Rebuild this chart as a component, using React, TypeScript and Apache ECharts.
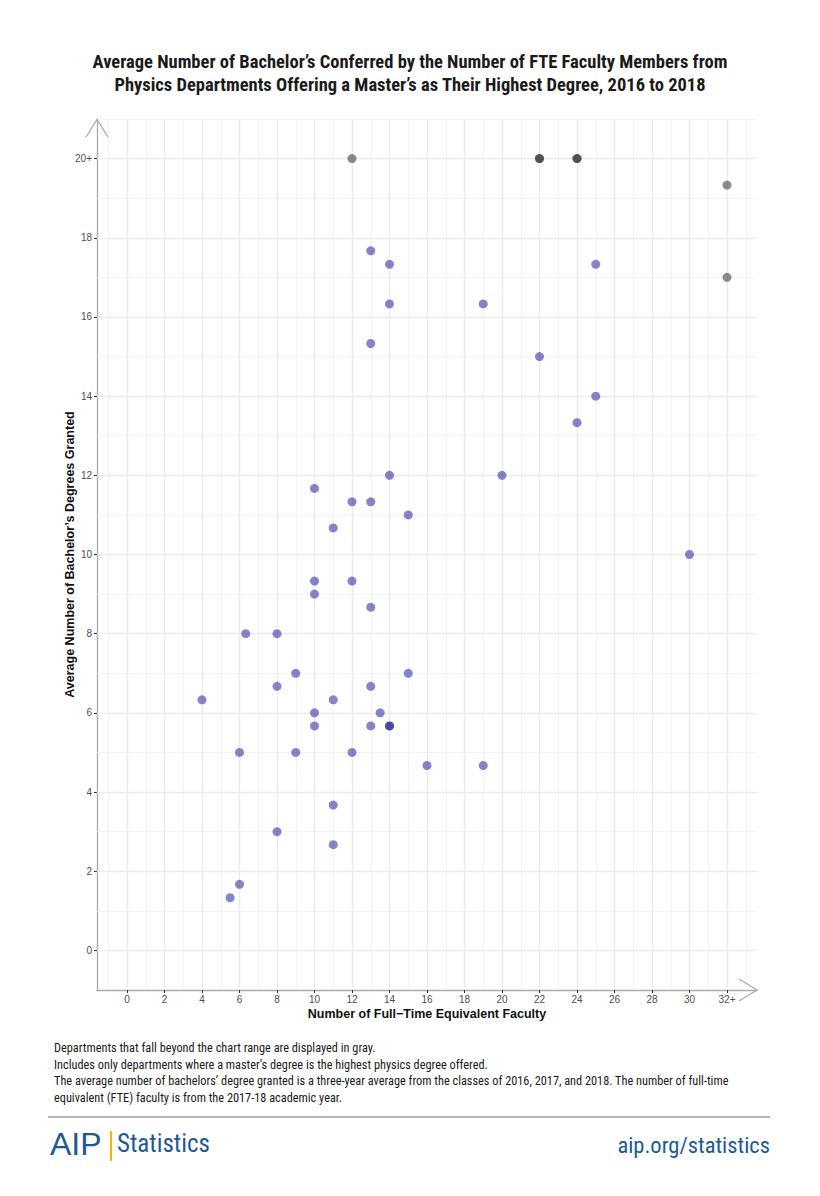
import React, { useEffect, useRef } from "react";
import * as echarts from "echarts";

const titleLines = [
  "Average Number of Bachelor’s Conferred by the Number of FTE Faculty Members from",
  "Physics Departments Offering a Master’s as Their Highest Degree, 2016 to 2018",
];
const xAxisTitle = "Number of Full−Time Equivalent Faculty";
const yAxisTitle = "Average Number of Bachelor’s Degrees Granted";

const xTickValues = [0, 2, 4, 6, 8, 10, 12, 14, 16, 18, 20, 22, 24, 26, 28, 30, 32];
const xTickLabels = ["0", "2", "4", "6", "8", "10", "12", "14", "16", "18", "20", "22", "24", "26", "28", "30", "32+"];
const yTickValues = [0, 2, 4, 6, 8, 10, 12, 14, 16, 18, 20];
const yTickLabels = ["0", "2", "4", "6", "8", "10", "12", "14", "16", "18", "20+"];
const xGridMinor = [-1, 1, 3, 5, 7, 9, 11, 13, 15, 17, 19, 21, 23, 25, 27, 29, 31, 33];
const yGridMinor = [1, 3, 5, 7, 9, 11, 13, 15, 17, 19, 21];

// departments within range (blue)
const blueFaculty = [13, 14, 14, 13, 25, 19, 22, 25, 24, 14, 10, 12, 13, 15, 11, 20, 30, 10, 12, 10, 13, 6.33, 8, 9, 15, 8, 13, 4, 11, 10, 13.5, 10, 13, 14, 14, 6, 9, 12, 16, 19, 11, 8, 11, 6, 5.5];
const blueBachelors = [17.67, 17.33, 16.33, 15.33, 17.33, 16.33, 15, 14, 13.33, 12, 11.67, 11.33, 11.33, 11, 10.67, 12, 10, 9.33, 9.33, 9, 8.67, 8, 8, 7, 7, 6.67, 6.67, 6.33, 6.33, 6, 6, 5.67, 5.67, 5.67, 5.67, 5, 5, 5, 4.67, 4.67, 3.67, 3, 2.67, 1.67, 1.33];

// departments beyond chart range (gray)
const grayFaculty = [12, 22, 22, 24, 24, 32, 32];
const grayBachelors = [20, 20, 20, 20, 20, 19.33, 17];

const footnotes = [
  "Departments that fall beyond the chart range are displayed in gray.",
  "Includes only departments where a master’s degree is the highest physics degree offered.",
  "The average number of bachelors’ degree granted is a three-year average from the classes of 2016, 2017, and 2018. The number of full-time",
  "equivalent (FTE) faculty is from the 2017-18 academic year.",
];

const COND = "'Liberation Sans Narrow', 'Roboto Condensed', 'DejaVu Sans Condensed', Roboto, sans-serif";
const ARIAL = "'Liberation Sans', Arial, sans-serif";
const AIP_BLUE = "#1b5a94";

export default function App() {
  const ref = useRef<HTMLDivElement>(null);
  useEffect(() => {
    document.body.style.margin = "0";
    const chart = echarts.init(ref.current!, null, { renderer: "svg" });
    const gridLines: any[] = [];
    const major = { width: 1.4, color: "#ebebeb", type: "solid" };
    const minor = { width: 0.8, color: "#f0f0f0", type: "solid" };
    xTickValues.forEach((v) => gridLines.push({ xAxis: v, lineStyle: major }));
    xGridMinor.forEach((v) => gridLines.push({ xAxis: v, lineStyle: minor }));
    yTickValues.forEach((v) => gridLines.push({ yAxis: v, lineStyle: major }));
    yGridMinor.forEach((v) => gridLines.push({ yAxis: v, lineStyle: minor }));

    const axisColor = "#ababab";
    chart.setOption({
      animation: false,
      title: {
        text: titleLines.join("\n"),
        left: "center",
        top: 45,
        textStyle: {
          fontFamily: COND,
          fontSize: 18.5,
          fontWeight: "bold",
          color: "#1a1a1a",
          lineHeight: 23,
          align: "center",
        },
      },
      grid: { left: 97, right: 63, top: 119, bottom: 206, containLabel: false },
      xAxis: {
        type: "value",
        min: -1.6,
        max: 33.6,
        splitLine: { show: false },
        axisLine: { show: true, onZero: false, lineStyle: { color: axisColor, width: 1.3 } },
        axisTick: { show: true, length: 3, customValues: xTickValues, lineStyle: { color: "#333" } },
        axisLabel: {
          customValues: xTickValues,
          formatter: (v: number) => xTickLabels[xTickValues.indexOf(v)] ?? "",
          color: "#4d4d4d",
          fontFamily: ARIAL,
          fontSize: 10,
          margin: 4,
        },
        name: xAxisTitle,
        nameLocation: "middle",
        nameGap: 17,
        nameMoveOverlap: false,
        nameTextStyle: { fontFamily: ARIAL, fontWeight: "bold", fontSize: 12.5, color: "#111" },
      },
      yAxis: {
        type: "value",
        min: -1,
        max: 21,
        splitLine: { show: false },
        axisLine: { show: true, onZero: false, lineStyle: { color: axisColor, width: 1.3 } },
        axisTick: { show: true, length: 3, customValues: yTickValues, lineStyle: { color: "#333" } },
        axisLabel: {
          customValues: yTickValues,
          formatter: (v: number) => yTickLabels[yTickValues.indexOf(v)] ?? "",
          color: "#4d4d4d",
          fontFamily: ARIAL,
          fontSize: 10,
          margin: 5,
        },
        name: yAxisTitle,
        nameLocation: "middle",
        nameGap: 21,
        nameMoveOverlap: false,
        nameRotate: 90,
        nameTextStyle: { fontFamily: ARIAL, fontWeight: "bold", fontSize: 12.5, color: "#111" },
      },
      series: [
        {
          type: "scatter",
          z: 3,
          symbolSize: 9,
          data: blueFaculty.map((x, i) => [x, blueBachelors[i]]),
          itemStyle: { color: "rgb(11,11,145)", opacity: 0.5 },
          silent: true,
          markLine: {
            silent: true,
            z: 1,
            symbol: "none",
            label: { show: false },
            emphasis: { disabled: true },
            lineStyle: { type: "solid" },
            data: gridLines,
          },
        },
        {
          type: "scatter",
          z: 3,
          symbolSize: 9,
          data: grayFaculty.map((x, i) => [x, grayBachelors[i]]),
          itemStyle: { color: "rgb(25,25,25)", opacity: 0.5 },
          silent: true,
        },
      ],
      graphic: [
        {
          type: "polyline",
          shape: { points: [[86, 137], [97, 119.5], [108, 137]] },
          style: { stroke: axisColor, lineWidth: 1.3, fill: "none" },
          z: 10,
        },
        {
          type: "polyline",
          shape: { points: [[739, 979], [757, 990], [739, 1001]] },
          style: { stroke: axisColor, lineWidth: 1.3, fill: "none" },
          z: 10,
        },
        ...footnotes.map((t, i) => ({
          type: "text",
          left: 54,
          top: 1042 + i * 16.7,
          style: { text: t, fontFamily: COND, fontSize: 12.3, fill: "#1a1a1a" },
        })),
        {
          type: "rect",
          shape: { x: 48, y: 1116, width: 722, height: 2 },
          style: { fill: "#b5b5b5" },
        },
        {
          type: "text",
          left: 50,
          top: 1128,
          style: { text: "AIP", fontFamily: ARIAL, fontSize: 32, fill: AIP_BLUE },
        },
        {
          type: "rect",
          shape: { x: 110, y: 1131, width: 2, height: 30 },
          style: { fill: "#f2b705" },
        },
        {
          type: "text",
          left: 117,
          top: 1131,
          style: { text: "Statistics", fontFamily: COND, fontSize: 25, fill: AIP_BLUE },
        },
        {
          type: "text",
          right: 50,
          top: 1133,
          style: { text: "aip.org/statistics", fontFamily: COND, fontSize: 22.5, fill: AIP_BLUE },
        },
      ],
    });
    return () => chart.dispose();
  }, []);
  return <div ref={ref} style={{ width: 820, height: 1196 }} />;
}
